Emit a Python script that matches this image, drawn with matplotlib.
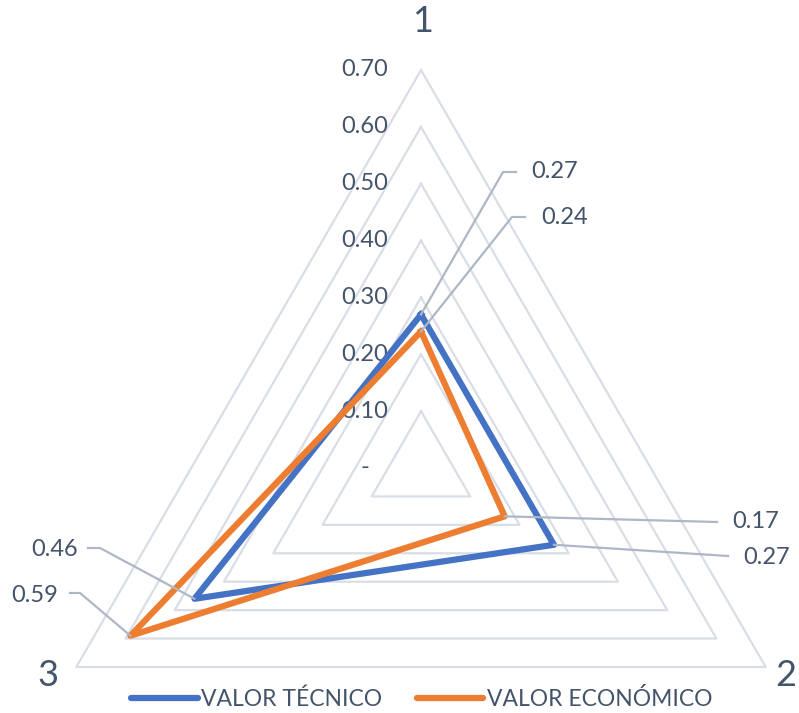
import numpy as np
import matplotlib
matplotlib.use("Agg")
import matplotlib.pyplot as plt
from matplotlib.lines import Line2D

plt.rcParams['font.family'] = ['Lato', 'DejaVu Sans']

# data
categories = ['1', '2', '3']
valor_tecnico = [0.27, 0.27, 0.46]
valor_economico = [0.24, 0.17, 0.59]
ticks = [0.0, 0.1, 0.2, 0.3, 0.4, 0.5, 0.6, 0.7]
tick_labels = ['-', '0.10', '0.20', '0.30', '0.40', '0.50', '0.60', '0.70']
series_names = ['VALOR TÉCNICO', 'VALOR ECONÓMICO']
series_colors = ['#4472C4', '#ED7D31']

W, H = 799, 713
text_color = '#44546A'
grid_color = '#D9DEE6'
leader_color = '#ADB7C5'

fig = plt.figure(figsize=(W / 100, H / 100), dpi=100)

# polar axes placed so that the centre sits at (421, 468) px and r=0.70 -> 398 px
cx, cy, R = 421, 468, 398
ax = fig.add_axes([(cx - R) / W, (H - cy - R) / H, 2 * R / W, 2 * R / H],
                  projection='polar')
ax.set_theta_zero_location('N')
ax.set_theta_direction(-1)
ax.set_ylim(0, 0.70)
ax.axis('off')

theta = np.deg2rad([0, 120, 240])
closed = np.append(theta, theta[0])

# triangular grid
for r in ticks[1:]:
    ax.plot(closed, [r] * 4, color=grid_color, lw=1.6, zorder=1, clip_on=False)

# radial tick labels to the left of axis 1
for r, lab in zip(ticks, tick_labels):
    ax.annotate(lab, xy=(0, r), xytext=(-56, 0), textcoords='offset pixels',
                ha='center', va='center', fontsize=17, color=text_color,
                annotation_clip=False)

# category labels
cat_pos = [(423, 22), (786, 676), (48, 676)]
for lab, (px, py) in zip(categories, cat_pos):
    fig.text(px / W, 1 - py / H, lab, ha='center', va='center',
             fontsize=26, color=text_color)

# series
for vals, col, name in zip([valor_tecnico, valor_economico], series_colors, series_names):
    ax.plot(closed, vals + vals[:1], color=col, lw=4.5, zorder=3,
            solid_joinstyle='round', clip_on=False, label=name)

# data labels with leader lines (positions in image pixels: elbow, line end, text x, text y, align)
label_layout = {
    (0, 0): [(503, 172), (516, 172), 531, 172, 'left'],
    (1, 0): [(512, 217), (525, 217), 541, 217, 'left'],
    (1, 1): [None, (717, 522), 732, 522, 'left'],
    (0, 1): [None, (728, 556), 743, 557, 'left'],
    (0, 2): [(100, 548), (88, 548), 78, 550, 'right'],
    (1, 2): [(80, 593), (70, 593), 58, 595, 'right'],
}
all_vals = [valor_tecnico, valor_economico]
for (s, k), (elbow, end, tx, ty, ha) in label_layout.items():
    v = all_vals[s][k]
    px, py = ax.transData.transform((theta[k], v))
    xs, ys = [px], [py]
    if elbow is not None:
        xs.append(elbow[0]); ys.append(H - elbow[1])
    xs.append(end[0]); ys.append(H - end[1])
    fig.add_artist(Line2D(xs, ys, transform=None, color=leader_color, lw=1.6, zorder=2))
    fig.text(tx / W, 1 - ty / H, f'{v:.2f}', ha=ha, va='center',
             fontsize=17, color=text_color)

handles = [Line2D([], [], color=c, lw=4.5, solid_capstyle='round') for c in series_colors]
fig.legend(handles, series_names, loc='center', bbox_to_anchor=(0.528, 1 - 699 / H),
           ncol=2, frameon=False, fontsize=16.5, labelcolor=text_color,
           handlelength=2.9, handletextpad=0.15, columnspacing=1.5)

fig.savefig('out.png', dpi=100, facecolor='white')
